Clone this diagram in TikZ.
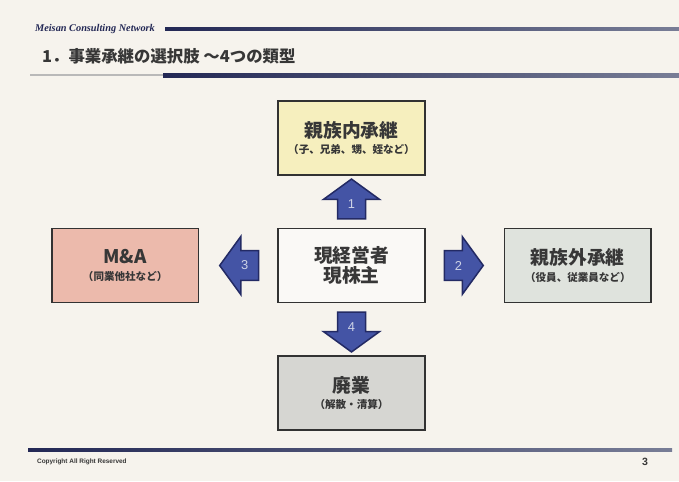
\documentclass[tikz,border=0pt]{standalone}
\usepackage{fontspec}
\setmainfont{Noto Sans CJK JP}
\newfontfamily\headfont{Liberation Serif}
\newfontfamily\footfont{Liberation Sans}
\usetikzlibrary{positioning}
\usetikzlibrary{shapes.arrows}
\usetikzlibrary{calc}

\definecolor{paper}{RGB}{246,243,237}
\definecolor{ink}{RGB}{55,55,55}
\definecolor{boxline}{RGB}{50,50,50}
\definecolor{navyline}{RGB}{35,40,85}
\definecolor{fadeline}{RGB}{120,125,150}
\definecolor{yellowbox}{RGB}{246,239,190}
\definecolor{pinkbox}{RGB}{236,186,172}
\definecolor{greenbox}{RGB}{223,227,221}
\definecolor{graybox}{RGB}{214,214,210}
\definecolor{whitebox}{RGB}{250,249,246}
\definecolor{arrowblue}{RGB}{68,84,165}
\definecolor{arrowline}{RGB}{35,42,100}
\definecolor{numgray}{RGB}{205,210,230}

\newcommand{\subtxt}[1]{{\fontsize{9}{10}\selectfont #1}}

\begin{document}
\begin{tikzpicture}[
      x = 0.3mm, y = -0.3mm,
      node distance = 15.6mm and 23.4mm,
      choice/.style = {
        draw = boxline, line width = 0.5mm,
        minimum width = 44mm, minimum height = 22.2mm,
        align = center, text = ink,
        font = \bfseries\fontsize{16}{17}\selectfont
      },
      blockarrow/.style = {
        single arrow, draw = arrowline, fill = arrowblue,
        line width = 0.45mm, inner sep = 2.9mm,
        minimum height = 11.4mm,
        single arrow head extend = 4.2mm,
        single arrow tip angle = 108,
        text = numgray, font = \footfont\fontsize{11}{11}\selectfont
      },
    ]

    % paper and frame lines
    \fill[paper] (0,0) rectangle (679,481);
    \shade[left color = navyline, right color = fadeline] (165,27.5) rectangle (679,30.5);
    \fill[gray!55] (30,74) rectangle (163,76);
    \shade[left color = navyline, right color = fadeline] (163,73) rectangle (679,77);
    \shade[left color = navyline, right color = fadeline] (28,448) rectangle (672,451);

    \node[anchor = west, text = navyline, font = \headfont\bfseries\itshape\fontsize{8.8}{9}\selectfont]
      (firm) at (31,29) {Meisan Consulting Network};
    \node[anchor = west, text = ink, font = \bfseries\fontsize{14}{15}\selectfont]
      (title) at (38,56) {1．事業承継の選択肢 ～4つの類型};

    % the five boxes
    \node[choice, fill = whitebox] (owner) at (351.5,265.5) {現経営者\\現株主};
    \node[choice, fill = yellowbox, above = of owner] (kin)
      {親族内承継\\[-3pt]\subtxt{（子、兄弟、甥、姪など）}};
    \node[choice, fill = greenbox, right = of owner] (nonkin)
      {親族外承継\\[-3pt]\subtxt{（役員、従業員など）}};
    \node[choice, fill = pinkbox, left = of owner] (MA)
      {M\&A\\[-3pt]\subtxt{（同業他社など）}};
    \node[choice, fill = graybox, below = of owner] (closure)
      {廃業\\[-3pt]\subtxt{（解散・清算）}};

    % numbered arrows
    \node[blockarrow, shape border rotate = 90, anchor = tail]
      (a1) at ([yshift = 2.4mm]owner.north) {1};
    \node[blockarrow, anchor = tail]
      (a2) at ([xshift = 5.4mm]owner.east) {2};
    \node[blockarrow, shape border rotate = 180, anchor = tail]
      (a3) at ([xshift = -5.4mm]owner.west) {3};
    \node[blockarrow, shape border rotate = 270, anchor = tail]
      (a4) at ([yshift = -2.4mm]owner.south) {4};

    % footer
    \node[anchor = west, text = ink, font = \footfont\bfseries\fontsize{5.5}{6}\selectfont]
      (copy) at (33,462) {Copyright All Right Reserved};
    \node[text = ink, font = \footfont\bfseries\fontsize{9}{9}\selectfont]
      (page) at (645,462) {3};
  \end{tikzpicture}
\end{document}
